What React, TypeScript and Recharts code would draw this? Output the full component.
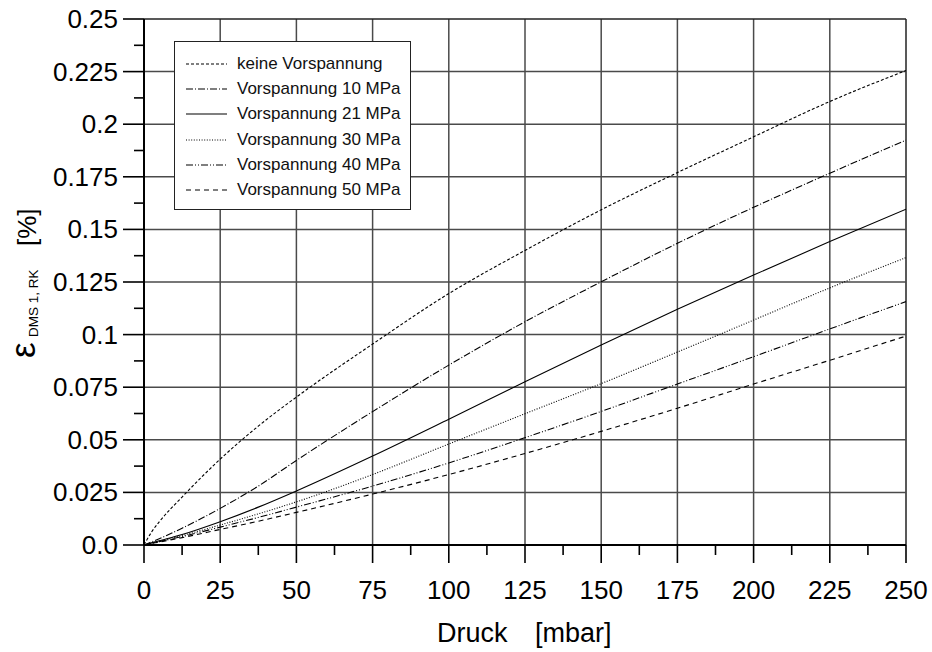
import React from "react";
import { LineChart, Line, XAxis, YAxis, ReferenceLine, Legend } from "recharts";

const FONT = "'Liberation Sans', Arial, Helvetica, sans-serif";

// Druck [mbar]
const pressure = [0, 2.5, 5, 12.5, 25, 37.5, 50, 75, 100, 125, 150, 175, 200, 225, 250];
// strain values [%]
const keineVorspannung = [0, 0.0062, 0.011, 0.0228, 0.0408, 0.0565, 0.0703, 0.0955, 0.1195, 0.140, 0.1593, 0.177, 0.1940, 0.2108, 0.2255];
const vorspannung10 = [0, 0.0015, 0.003, 0.008, 0.0174, 0.028, 0.0402, 0.0634, 0.0855, 0.1061, 0.1251, 0.1434, 0.1605, 0.1767, 0.1924];
const vorspannung21 = [0, 0.001, 0.002, 0.005, 0.0111, 0.018, 0.0257, 0.0423, 0.0598, 0.0776, 0.0951, 0.112, 0.1283, 0.1442, 0.1596];
const vorspannung30 = [0, 0.0009, 0.0018, 0.0045, 0.0095, 0.0148, 0.0205, 0.0335, 0.048, 0.0624, 0.0767, 0.0917, 0.1069, 0.1222, 0.1366];
const vorspannung40 = [0, 0.0008, 0.0016, 0.004, 0.0085, 0.0131, 0.018, 0.028, 0.039, 0.051, 0.0635, 0.0765, 0.0895, 0.1027, 0.1157];
const vorspannung50 = [0, 0.0007, 0.0014, 0.0035, 0.0074, 0.0113, 0.0155, 0.0242, 0.0335, 0.0435, 0.054, 0.065, 0.0765, 0.0878, 0.0993];

const seriesNames = [
  "keine Vorspannung",
  "Vorspannung 10 MPa",
  "Vorspannung 21 MPa",
  "Vorspannung 30 MPa",
  "Vorspannung 40 MPa",
  "Vorspannung 50 MPa",
];
const seriesKeys = ["s0", "s10", "s21", "s30", "s40", "s50"];
const seriesValues = [keineVorspannung, vorspannung10, vorspannung21, vorspannung30, vorspannung40, vorspannung50];
const seriesDash = ["3 2", "7 2 1 2", "", "1 1.6", "7 2 1 2 1 2", "5 4"];

const xMajor = [0, 25, 50, 75, 100, 125, 150, 175, 200, 225, 250];
const xMinor = [12.5, 37.5, 62.5, 87.5, 112.5, 137.5, 162.5, 187.5, 212.5, 237.5];
const xLabels = ["0", "25", "50", "75", "100", "125", "150", "175", "200", "225", "250"];

const yMajor = [0, 0.025, 0.05, 0.075, 0.1, 0.125, 0.15, 0.175, 0.2, 0.225, 0.25];
const yMinor = [0.0125, 0.0375, 0.0625, 0.0875, 0.1125, 0.1375, 0.1625, 0.1875, 0.2125, 0.2375];
const yLabels = ["0.0", "0.025", "0.05", "0.075", "0.1", "0.125", "0.15", "0.175", "0.2", "0.225", "0.25"];

const data = pressure.map((x, i) => {
  const row: Record<string, number> = { x };
  seriesKeys.forEach((k, j) => {
    row[k] = seriesValues[j][i];
  });
  return row;
});

const xTicks = [...xMajor, ...xMinor].sort((a, b) => a - b);
const yTicks = [...yMajor, ...yMinor].sort((a, b) => a - b);

const GRID = "#4a4a4a";

const XTick = (props: any) => {
  const { x, y, payload } = props;
  const idx = xMajor.indexOf(payload.value);
  const major = idx >= 0;
  return (
    <g>
      <line x1={x} x2={x} y1={y} y2={y + (major ? 18 : 10)} stroke="#000" strokeWidth={1.6} />
      {major && (
        <text x={x} y={y + 54} textAnchor="middle" fontSize={26} fontFamily={FONT} fill="#000">
          {xLabels[idx]}
        </text>
      )}
    </g>
  );
};

const YTick = (props: any) => {
  const { x, y, payload } = props;
  const idx = yMajor.indexOf(payload.value);
  const major = idx >= 0;
  return (
    <g>
      <line x1={x - (major ? 21 : 10)} x2={x} y1={y} y2={y} stroke="#000" strokeWidth={1.6} />
      {major && (
        <text x={x - 26} y={y + 9} textAnchor="end" fontSize={26} fontFamily={FONT} fill="#000">
          {yLabels[idx]}
        </text>
      )}
    </g>
  );
};

const LegendBox = () => (
  <div
    style={{
      width: 235,
      height: 167,
      border: "1.5px solid #222",
      background: "#fff",
      boxSizing: "content-box",
      position: "relative",
      fontFamily: FONT,
    }}
  >
    {seriesNames.map((name, i) => (
      <div
        key={name}
        style={{
          position: "absolute",
          left: 0,
          top: 22 + i * 25.2 - 12,
          height: 24,
          display: "flex",
          alignItems: "center",
        }}
      >
        <svg width={62} height={24} style={{ display: "block" }}>
          <line x1={11} x2={52} y1={12} y2={12} stroke="#000" strokeWidth={1.1} strokeDasharray={seriesDash[i] || undefined} />
        </svg>
        <span style={{ fontSize: 17, color: "#111", whiteSpace: "nowrap", lineHeight: "24px" }}>{name}</span>
      </div>
    ))}
  </div>
);

export default function App() {
  return (
    <div style={{ position: "absolute", left: 0, top: 0, width: 932, height: 652, background: "#fff" }}>
      <LineChart width={932} height={652} data={data} margin={{ top: 19, right: 26, left: 0, bottom: 0 }}>
        {xMajor.slice(1).map((v) => (
          <ReferenceLine key={"gx" + v} x={v} stroke={v === 250 ? "#222" : GRID} strokeWidth={1.5} />
        ))}
        {yMajor.slice(1).map((v) => (
          <ReferenceLine key={"gy" + v} y={v} stroke={v === 0.25 ? "#222" : GRID} strokeWidth={1.5} />
        ))}
        <XAxis
          dataKey="x"
          type="number"
          domain={[0, 250]}
          ticks={xTicks}
          interval={0}
          height={107}
          tickSize={0}
          tickMargin={0}
          tickLine={false}
          axisLine={{ stroke: "#000", strokeWidth: 2 }}
          tick={<XTick />}
          allowDataOverflow
        />
        <YAxis
          type="number"
          domain={[0, 0.25]}
          ticks={yTicks}
          interval={0}
          width={144}
          tickSize={0}
          tickMargin={0}
          tickLine={false}
          axisLine={{ stroke: "#000", strokeWidth: 2 }}
          tick={<YTick />}
          allowDataOverflow
        />
        {seriesKeys.map((k, i) => (
          <Line
            key={k}
            dataKey={k}
            name={seriesNames[i]}
            type="monotone"
            stroke="#000"
            strokeWidth={1.1}
            strokeDasharray={seriesDash[i] || undefined}
            dot={false}
            activeDot={false}
            isAnimationActive={false}
          />
        ))}
        <Legend
          layout="vertical"
          align="center"
          verticalAlign="middle"
          content={<LegendBox />}
          wrapperStyle={{ position: "absolute", left: 174, top: 41, width: 238, height: 170 }}
        />
      </LineChart>
      <svg width={932} height={652} style={{ position: "absolute", left: 0, top: 0, pointerEvents: "none" }}>
        <text x={437} y={642} fontSize={27} fontFamily={FONT} fill="#000">Druck</text>
        <text x={535} y={642} fontSize={27} fontFamily={FONT} fill="#000">[mbar]</text>
        <text transform="translate(35,358) rotate(-90)" fontSize={35} fontFamily={FONT} fill="#000">ε</text>
        <text transform="translate(38,337) rotate(-90)" fontSize={13.5} fontFamily={FONT} fill="#000">DMS 1, RK</text>
        <text transform="translate(36,246) rotate(-90)" fontSize={26} fontFamily={FONT} fill="#000">[%]</text>
      </svg>
    </div>
  );
}
